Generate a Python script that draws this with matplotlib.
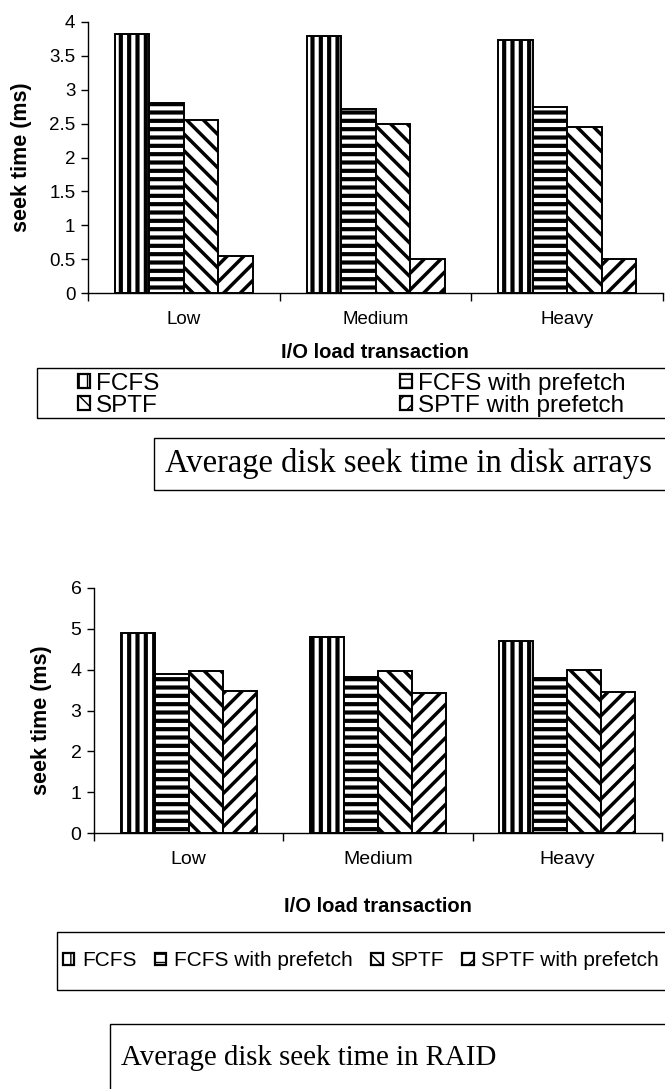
import numpy as np
import matplotlib.pyplot as plt
from matplotlib.patches import Rectangle, Patch

plt.rcParams['font.family'] = ['Liberation Sans', 'DejaVu Sans']

W, H, DPI = 665, 1089, 100

categories = ['Low', 'Medium', 'Heavy']
series = ['FCFS', 'FCFS with prefetch', 'SPTF', 'SPTF with prefetch']

# seek time (ms) in disk arrays
array_fcfs = [3.82, 3.79, 3.74]
array_fcfs_pf = [2.80, 2.72, 2.75]
array_sptf = [2.55, 2.50, 2.45]
array_sptf_pf = [0.54, 0.50, 0.50]

# seek time (ms) in RAID
raid_fcfs = [4.91, 4.81, 4.71]
raid_fcfs_pf = [3.89, 3.83, 3.79]
raid_sptf = [3.96, 3.97, 3.98]
raid_sptf_pf = [3.48, 3.44, 3.45]

hatches = ['||', '--', '\\\\', '//']
hatch_lw = [3.0, 3.0, 2.5, 2.5]


def fbox(l, t, r, b):
    # pixel box -> figure fraction [left, bottom, width, height]
    return [l / W, 1 - b / H, (r - l) / W, (b - t) / H]


def fx(x):
    return x / W


def fy(y):
    return 1 - y / H


def bar_panel(ax, data, ymax, ystep, fs):
    x = np.arange(len(categories))
    bw = 0.18
    for i, vals in enumerate(data):
        with plt.rc_context({'hatch.linewidth': hatch_lw[i]}):
            ax.bar(x + (i - 1.5) * bw, vals, bw, color='white',
                   edgecolor='black', linewidth=1.4, hatch=hatches[i],
                   label=series[i], zorder=3)
    ax.set_xlim(-0.5, len(categories) - 0.5)
    ax.set_ylim(0, ymax)
    yt = np.arange(0, ymax + ystep / 2, ystep)
    ax.set_yticks(yt)
    ax.set_yticklabels(['%g' % v for v in yt], fontsize=fs)
    ax.set_xticks(x)
    ax.set_xticklabels(categories, fontsize=fs)
    ax.set_xticks(np.arange(-0.5, len(categories)), minor=True)
    ax.tick_params(axis='x', which='major', length=0, pad=13)
    ax.tick_params(axis='x', which='minor', length=6, width=1, direction='out')
    ax.tick_params(axis='y', length=5, width=1, direction='out', pad=4)
    for s in ['top', 'right']:
        ax.spines[s].set_visible(False)
    for s in ['left', 'bottom']:
        ax.spines[s].set_linewidth(1.0)


def legend_handles():
    hs = []
    for i in range(4):
        with plt.rc_context({'hatch.linewidth': 2.0}):
            hs.append(Patch(facecolor='white', edgecolor='black',
                            hatch=hatches[i], linewidth=1.6))
    return hs


fig = plt.figure(figsize=(W / DPI, H / DPI), dpi=DPI)

### ---------------------------------------------------------------------------
### disk arrays
ax1 = fig.add_axes(fbox(88, 22, 663, 293))
bar_panel(ax1, [array_fcfs, array_fcfs_pf, array_sptf, array_sptf_pf], 4, 0.5, 13.5)
fig.text(fx(22), fy(157), 'seek time (ms)', rotation=90, fontsize=15.5,
         fontweight='bold', ha='center', va='center')
fig.text(fx(375), fy(353), 'I/O load transaction', fontsize=14.5,
         fontweight='bold', ha='center', va='center')

# legend frame runs off the right edge
fig.patches.append(Rectangle((fx(37), fy(418)), 1, (418 - 368) / H,
                             transform=fig.transFigure, fill=False,
                             edgecolor='black', linewidth=1.0))
hs = legend_handles()
for col, (a, b) in enumerate([(0, 2), (1, 3)]):
    xl = [78, 400][col]
    fig.legend([hs[a], hs[b]], [series[a], series[b]], loc='center left',
               bbox_to_anchor=(fx(xl), fy(395)), frameon=False, fontsize=17.5,
               handlelength=0.5, handleheight=0.5, handletextpad=0.25,
               labelspacing=0.0, borderpad=0, borderaxespad=0)

fig.patches.append(Rectangle((fx(154), fy(490)), 1, (490 - 438) / H,
                             transform=fig.transFigure, fill=False,
                             edgecolor='black', linewidth=1.0))
fig.text(fx(165), fy(464), 'Average disk seek time in disk arrays',
         family='Liberation Serif', fontsize=23.5, ha='left', va='center')

### ---------------------------------------------------------------------------
### RAID
ax2 = fig.add_axes(fbox(94, 588, 662, 833))
bar_panel(ax2, [raid_fcfs, raid_fcfs_pf, raid_sptf, raid_sptf_pf], 6, 1, 14)
fig.text(fx(42), fy(720), 'seek time (ms)', rotation=90, fontsize=15.5,
         fontweight='bold', ha='center', va='center')
fig.text(fx(378), fy(906), 'I/O load transaction', fontsize=14.5,
         fontweight='bold', ha='center', va='center')

fig.patches.append(Rectangle((fx(57), fy(990)), 1, (990 - 932) / H,
                             transform=fig.transFigure, fill=False,
                             edgecolor='black', linewidth=1.0))
fig.legend(hs, series, loc='center left', bbox_to_anchor=(fx(63), fy(961)),
           ncol=4, frameon=False, fontsize=15, handlelength=0.55,
           handleheight=0.55, handletextpad=0.35, columnspacing=0.9,
           borderpad=0, borderaxespad=0)

fig.patches.append(Rectangle((fx(110), fy(1100)), 1, (1100 - 1024) / H,
                             transform=fig.transFigure, fill=False,
                             edgecolor='black', linewidth=1.0))
fig.text(fx(121), fy(1058), 'Average disk seek time in RAID',
         family='Liberation Serif', fontsize=20.8, ha='left', va='center')

fig.savefig('out.png', dpi=DPI)
